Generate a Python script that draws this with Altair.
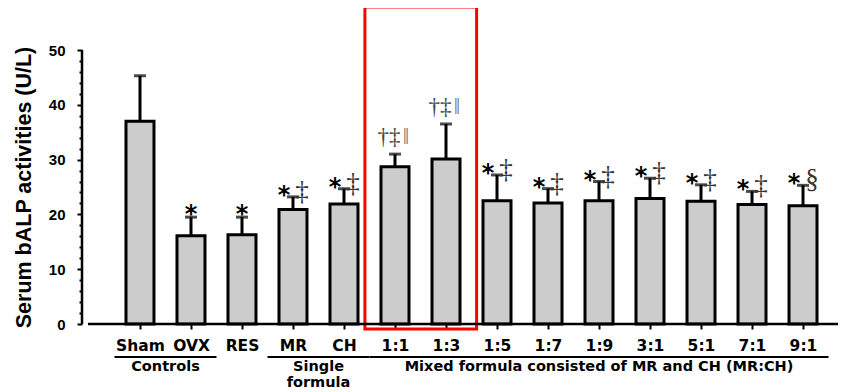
import altair as alt
import pandas as pd

categories = ["Sham", "OVX", "RES", "MR", "CH", "1:1", "1:3", "1:5", "1:7", "1:9", "3:1", "5:1", "7:1", "9:1"]
means = [37.0, 16.1, 16.3, 20.9, 21.9, 28.7, 30.1, 22.5, 22.1, 22.5, 22.9, 22.4, 21.8, 21.6]
errors = [8.3, 3.4, 3.2, 2.3, 2.8, 2.3, 6.4, 4.7, 2.6, 3.5, 3.7, 3.0, 2.4, 3.7]
signs = ["", "*", "*", "*‡", "*‡", "†‡‖", "†‡‖", "*‡", "*‡", "*‡", "*‡", "*‡", "*‡", "*§"]

group_names = ["Controls", "Single\nformula", "Mixed formula consisted of MR and CH (MR:CH)"]
group_first = ["Sham", "MR", "1:1"]
group_last = ["OVX", "CH", "9:1"]
highlight = ["1:1", "1:3"]

y_ticks = list(range(0, 51, 2))
y_title = "Serum bALP activities (U/L)"

SANS = "Liberation Sans"
LABEL_FONT = "DejaVu Sans"
SERIF = "Liberation Serif"

X_LO, X_HI = -1.137, 13.686
Y_LO, Y_HI = 0, 50

idx = {c: i for i, c in enumerate(categories)}
df = pd.DataFrame({
    "idx": list(range(len(categories))),
    "cat": categories,
    "mean": means,
    "upper": [m + e for m, e in zip(means, errors)],
    "sign": signs,
})
df["star"] = df["sign"].str.startswith("*")
df["lone"] = df["sign"] == "*"
df["sym"] = df["sign"].apply(lambda s: s[1:] if s.startswith("*") else "")

groups = pd.DataFrame({
    "name": group_names,
    "start": [idx[c] - 0.5 for c in group_first],
    "end": [idx[c] + 0.5 for c in group_last],
})
groups["mid"] = (groups["start"] + groups["end"]) / 2
groups["line_y"] = -6.0
groups["text_y"] = -6.6

box = pd.DataFrame({
    "x": [idx[highlight[0]] - 0.59],
    "x2": [idx[highlight[-1]] + 0.6],
    "y": [57.85],
    "y2": [-0.91],
})
yline = pd.DataFrame({"x": [X_LO], "y": [Y_LO], "y2": [Y_HI]})
xline = pd.DataFrame({"x": [idx[categories[0]] - 1.02], "x2": [X_HI], "y": [Y_LO]})

xscale = alt.Scale(domain=[X_LO, X_HI], nice=False, zero=False, padding=0)
yscale = alt.Scale(domain=[Y_LO, Y_HI], nice=False, padding=0)

label_expr = "[" + ",".join("'%s'" % c for c in categories) + "][datum.value]"
xaxis = alt.Axis(values=list(range(len(categories))), labelExpr=label_expr, title=None,
                 grid=False, domain=False,
                 tickColor="black", tickWidth=2, tickSize=5, labelFont=LABEL_FONT,
                 labelFontWeight="bold", labelFontSize=15.5, labelColor="black",
                 labelPadding=9, labelFlush=False, labelOverlap=False)
yaxis = alt.Axis(values=y_ticks, title=y_title, orient="left", grid=False, domain=False,
                 labelExpr="datum.value % 10 === 0 ? datum.label : ''",
                 tickColor="black", tickWidth=2,
                 tickSize={"condition": {"test": "datum.value % 10 === 0", "value": 5}, "value": 3},
                 labelFont=SANS, labelFontWeight="bold", labelFontSize=15,
                 labelColor="black", labelPadding=12, labelOverlap=False, titleFont=SANS,
                 titleFontSize=21.5, titleFontWeight="bold", titleColor="black", titlePadding=13)


def X(field):
    return alt.X(field, type="quantitative", scale=xscale, axis=xaxis)


def Y(field):
    return alt.Y(field, type="quantitative", scale=yscale, axis=yaxis)


base = alt.Chart(df)

bars = base.mark_bar(size=28, fill="#cccccc", stroke="black", strokeWidth=3).encode(
    x=X("idx"), y=Y("mean"),
)
err = base.mark_rule(color="black", strokeWidth=3).encode(
    x=X("idx"), y=Y("mean"), y2="upper:Q",
)
caps = base.mark_tick(orient="horizontal", size=12, thickness=3, color="black").encode(
    x=X("idx"), y=Y("upper"),
)
star_alone = base.transform_filter("datum.lone").mark_text(
    text="*", font="DejaVu Sans", fontWeight="bold", fontSize=24, color="black", dy=-2
).encode(x=X("idx"), y=Y("upper"))
star_left = base.transform_filter("datum.star && !datum.lone").mark_text(
    text="*", font="DejaVu Sans", fontWeight="bold", fontSize=24, color="black", dx=-9, dy=-1
).encode(x=X("idx"), y=Y("upper"))
sym_right = base.transform_filter("datum.star && !datum.lone").mark_text(
    font=SERIF, fontSize=27, color="#333333", dx=9, dy=-5
).encode(x=X("idx"), y=Y("upper"), text="sym:N")
dag = base.transform_filter("!datum.star && datum.sign != ''").mark_text(
    text="†‡", font=SERIF, fontSize=23, color="#444444", dx=-6, dy=-17
).encode(x=X("idx"), y=Y("upper"))
bar2 = base.transform_filter("!datum.star && datum.sign != ''").mark_text(
    text="‖", font=SERIF, fontSize=23, color="#777777", dx=11, dy=-17
).encode(x=X("idx"), y=Y("upper"))

glines = alt.Chart(groups).mark_rule(color="black", strokeWidth=2).encode(
    x=X("start"), x2="end:Q", y=Y("line_y"),
)
gtext = alt.Chart(groups).mark_text(
    font=LABEL_FONT, fontWeight="bold", fontSize=14.5, color="black", baseline="top",
    align="center", lineBreak="\n", lineHeight=16
).encode(x=X("mid"), y=Y("text_y"), text="name:N")
rect = alt.Chart(box).mark_rect(fillOpacity=0, stroke="#ff0000", strokeWidth=3).encode(
    x=X("x"), x2="x2:Q", y=Y("y"), y2="y2:Q",
)
y_axis_line = alt.Chart(yline).mark_rule(color="black", strokeWidth=2.5).encode(
    x=X("x"), y=Y("y"), y2="y2:Q",
)
x_axis_line = alt.Chart(xline).mark_rule(color="black", strokeWidth=2.5).encode(
    x=X("x"), x2="x2:Q", y=Y("y"),
)

chart = alt.layer(
    bars, err, caps, star_alone, star_left, sym_right, dag, bar2, glines, gtext, rect,
    y_axis_line, x_axis_line
).properties(
    width=756, height=274,
    autosize=alt.AutoSizeParams(type="none"),
    padding={"left": 74, "top": 42, "right": 0, "bottom": 68},
).configure_view(stroke=None)

chart.save("out.html", embed_options={"renderer": "svg", "actions": False})
